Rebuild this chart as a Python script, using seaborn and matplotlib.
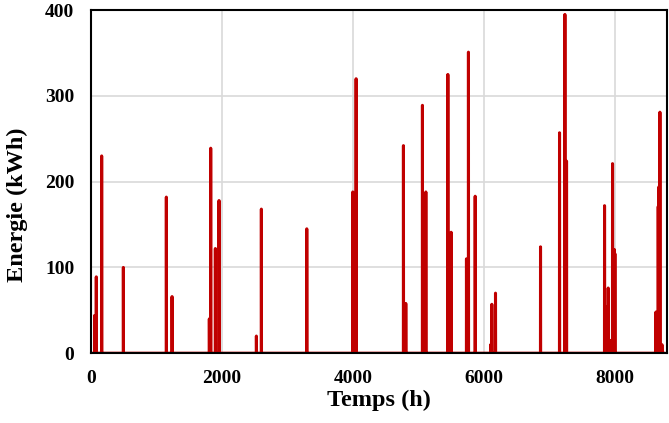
import numpy as np
import pandas as pd
import matplotlib
matplotlib.use("Agg")
import matplotlib.pyplot as plt
import seaborn as sns

# Spike hours and energies (kWh)
spike_hours = [56, 81, 163, 494, 1150, 1237, 1806, 1827, 1898, 1954, 2524, 2600,
               3293, 3995, 4046, 4768, 4804, 5058, 5084, 5110, 5446, 5496,
               5730, 5760, 5863, 6100, 6117, 6173, 6860, 7150, 7232, 7257,
               7837, 7870, 7893, 7920, 7959, 7985, 7995, 8621, 8656, 8667, 8682, 8713]
spike_values = [44, 89, 230, 100, 182, 66, 40, 239, 122, 178, 20, 168,
                145, 188, 320, 242, 58, 289, 124, 188, 325, 141,
                110, 351, 183, 10, 57, 70, 124, 257, 395, 224,
                172, 54, 76, 15, 221, 121, 116, 48, 171, 194, 281, 10]
n_hours = 8760

energy = np.zeros(n_hours)
for h, v in zip(spike_hours, spike_values):
    energy[h] = v
df = pd.DataFrame({"Temps": np.arange(n_hours), "Energie": energy})

sns.set_theme(style="whitegrid")
plt.rcParams["font.family"] = ["Liberation Serif", "DejaVu Serif"]
plt.rcParams["font.weight"] = "bold"
plt.rcParams["text.color"] = "black"
plt.rcParams["axes.labelcolor"] = "black"
plt.rcParams["xtick.color"] = "black"
plt.rcParams["ytick.color"] = "black"

fig = plt.figure(figsize=(6.69, 4.23), dpi=100)
ax = fig.add_axes([0.136, 0.165, 0.861, 0.811])
sns.lineplot(data=df, x="Temps", y="Energie", ax=ax, color="#C00000", linewidth=2.2)

ax.set_xlim(0, 8790)
ax.set_ylim(0, 400)
ax.set_xticks([0, 2000, 4000, 6000, 8000])
ax.set_yticks([0, 100, 200, 300, 400])
ax.grid(True, color="#D9D9D9", linewidth=1.2)
for s in ax.spines.values():
    s.set_color("black")
    s.set_linewidth(1.5)
ax.tick_params(length=0, labelsize=14, pad=12, colors="black")
for lab in ax.get_xticklabels() + ax.get_yticklabels():
    lab.set_fontweight("bold")
ax.set_xlabel("Temps (h)", fontsize=17.5, fontweight="bold", labelpad=2, color="black")
ax.set_ylabel("Energie (kWh)", fontsize=17.5, fontweight="bold", color="black")
ax.yaxis.set_label_coords(-0.11, 0.433)

fig.savefig("out.png", dpi=100)
